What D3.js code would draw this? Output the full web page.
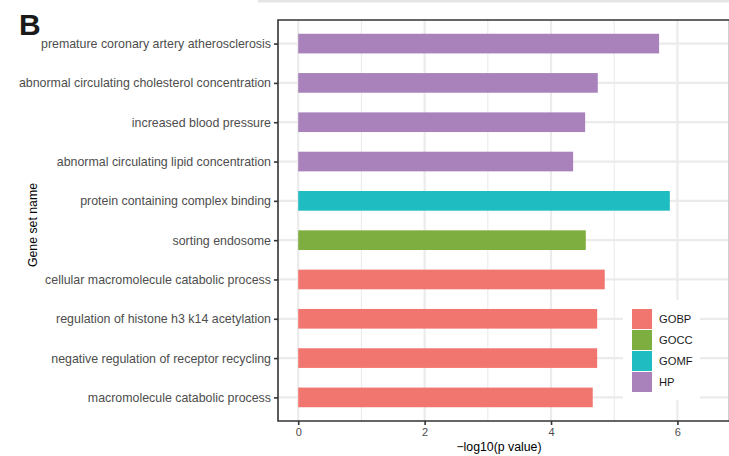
<!DOCTYPE html>
<html>
<head>
<meta charset="utf-8">
<script src="https://cdn.jsdelivr.net/npm/d3@7"></script>
<style>
  html, body { margin: 0; padding: 0; background: #fff; }
  svg { display: block; font-family: "Liberation Sans", Arial, sans-serif; }
</style>
</head>
<body>
<svg id="chart" width="729" height="456"></svg>
<script>
// Gene sets, top to bottom
const geneSets = [
  "premature coronary artery atherosclerosis",
  "abnormal circulating cholesterol concentration",
  "increased blood pressure",
  "abnormal circulating lipid concentration",
  "protein containing complex binding",
  "sorting endosome",
  "cellular macromolecule catabolic process",
  "regulation of histone h3 k14 acetylation",
  "negative regulation of receptor recycling",
  "macromolecule catabolic process"
];
// -log10(p value) for each gene set
const negLogP = [5.71, 4.74, 4.54, 4.35, 5.88, 4.55, 4.85, 4.73, 4.73, 4.66];
// Source collection for each gene set
const sources = ["HP", "HP", "HP", "HP", "GOMF", "GOCC", "GOBP", "GOBP", "GOBP", "GOBP"];

const legendKeys = ["GOBP", "GOCC", "GOMF", "HP"];
const legendColors = ["#F17670", "#7EAE40", "#1FBDC2", "#A982BC"];
const xMajorTicks = [0, 2, 4, 6];
const xMinorTicks = [1, 3, 5, 7];

const svg = d3.select("#chart");

const panel = { left: 278, top: 20, right: 729, bottom: 421 };

// x: ggplot-like expansion around the data range
const x = d3.scaleLinear().domain([-0.32, 6.92]).range([panel.left, panel.left + (6.92 + 0.32) * 63.2]);
const y = d3.scalePoint().domain(geneSets).range([panel.top, panel.bottom]).padding(0.6);
const step = y.step();
const color = d3.scaleOrdinal().domain(legendKeys).range(legendColors);

// thin strip across the top
svg.append("rect").attr("x", 258).attr("y", 0).attr("width", 471).attr("height", 2.5).attr("fill", "#e5e5e5");

// panel background
const g = svg.append("g");
g.append("rect")
  .attr("x", panel.left).attr("y", panel.top)
  .attr("width", panel.right - panel.left).attr("height", panel.bottom - panel.top)
  .attr("fill", "#fff");

svg.append("clipPath").attr("id", "pclip").append("rect")
  .attr("x", panel.left).attr("y", panel.top)
  .attr("width", panel.right - panel.left).attr("height", panel.bottom - panel.top);

const grid = g.append("g").attr("clip-path", "url(#pclip)");
grid.selectAll("line.minor").data(xMinorTicks).join("line")
  .attr("x1", d => x(d)).attr("x2", d => x(d))
  .attr("y1", panel.top).attr("y2", panel.bottom)
  .attr("stroke", "#ebebeb").attr("stroke-width", 1.1);
grid.selectAll("line.majx").data(xMajorTicks).join("line")
  .attr("x1", d => x(d)).attr("x2", d => x(d))
  .attr("y1", panel.top).attr("y2", panel.bottom)
  .attr("stroke", "#ebebeb").attr("stroke-width", 2.2);
grid.selectAll("line.majy").data(geneSets).join("line")
  .attr("x1", panel.left).attr("x2", panel.right)
  .attr("y1", d => y(d)).attr("y2", d => y(d))
  .attr("stroke", "#ebebeb").attr("stroke-width", 2.2);

// bars
g.selectAll("rect.bar").data(geneSets).join("rect")
  .attr("class", "bar")
  .attr("x", x(0))
  .attr("y", d => y(d) - step * 0.25)
  .attr("width", (d, i) => x(negLogP[i]) - x(0))
  .attr("height", step * 0.5)
  .attr("fill", (d, i) => color(sources[i]));

// legend
const lg = svg.append("g").attr("transform", "translate(623,300)");
lg.append("rect").attr("x", 0).attr("y", 0).attr("width", 77).attr("height", 100).attr("fill", "#fff");
const keyItems = lg.selectAll("g.key").data(legendKeys).join("g")
  .attr("transform", (d, i) => `translate(9,${9 + i * 21})`);
keyItems.append("rect").attr("width", 20).attr("height", 20).attr("fill", d => color(d));
keyItems.append("text").attr("x", 27).attr("y", 10).attr("dy", "0.35em")
  .attr("font-size", 11.2).attr("fill", "#1a1a1a").text(d => d);

// panel border
svg.append("line").attr("x1", 728.5).attr("x2", 728.5).attr("y1", panel.top).attr("y2", panel.bottom)
  .attr("stroke", "#cfcfcf").attr("stroke-width", 1);
svg.append("path")
  .attr("d", `M${panel.right},${panel.top}H${panel.left}V${panel.bottom}H${panel.right}`)
  .attr("fill", "none").attr("stroke", "#333").attr("stroke-width", 1.6);

// y axis
const yAxis = svg.append("g").attr("transform", `translate(${panel.left},0)`)
  .call(d3.axisLeft(y).tickSize(4).tickPadding(3));
yAxis.select(".domain").remove();
yAxis.selectAll(".tick line").attr("stroke", "#333").attr("stroke-width", 1.6);
yAxis.selectAll(".tick text").attr("font-size", 12.4).attr("fill", "#4d4d4d")
  .attr("font-family", "'Liberation Sans', Arial, sans-serif");

// x axis
const xAxis = svg.append("g").attr("transform", `translate(0,${panel.bottom})`)
  .call(d3.axisBottom(x).tickValues(xMajorTicks).tickSize(4).tickPadding(3).tickFormat(d3.format("d")));
xAxis.select(".domain").remove();
xAxis.selectAll(".tick line").attr("stroke", "#333").attr("stroke-width", 1.6);
xAxis.selectAll(".tick text").attr("font-size", 11).attr("fill", "#4d4d4d")
  .attr("font-family", "'Liberation Sans', Arial, sans-serif");

// axis titles
svg.append("text").attr("x", 499).attr("y", 451).attr("text-anchor", "middle")
  .attr("font-size", 12.3).attr("fill", "#000").text("\u2212log10(p value)");
svg.append("text").attr("transform", "translate(37,225) rotate(-90)").attr("text-anchor", "middle")
  .attr("font-size", 12.3).attr("fill", "#000").text("Gene set name");

// panel tag
svg.append("text").attr("x", 19).attr("y", 35).attr("font-size", 30).attr("font-weight", "bold")
  .attr("fill", "#1a1a1a").text("B");
</script>
</body>
</html>
